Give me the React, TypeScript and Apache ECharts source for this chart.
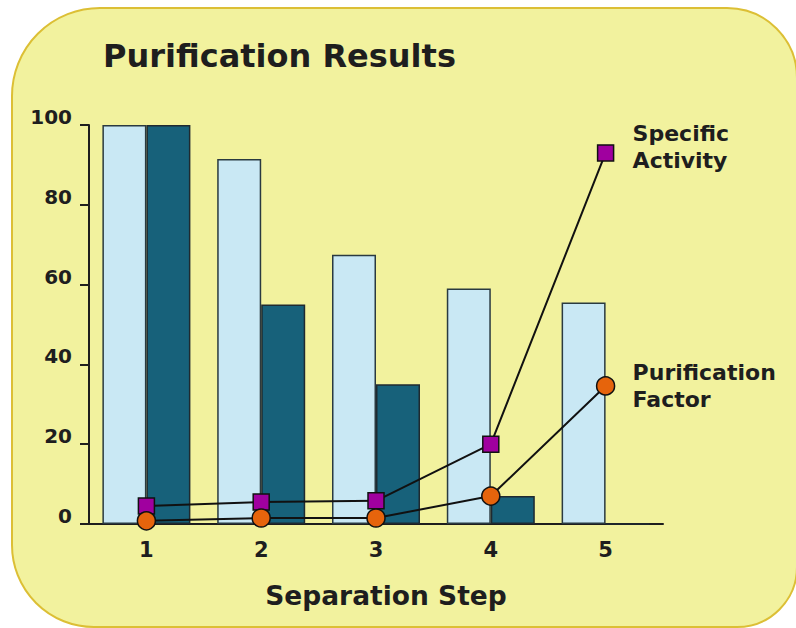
import React, { useEffect, useRef } from "react";
import * as echarts from "echarts";

// Separation steps along the x axis
const steps = ["1", "2", "3", "4", "5"];
// Light bars: activity recovered (% of start)
const activityRecovered = [100, 91.5, 67.5, 59, 55.5];
// Dark bars: protein recovered (% of start)
const proteinRecovered = [100, 55, 35, 7, 0];
// Line with square markers
const specificActivity = [4.5, 5.5, 5.8, 20, 93];
// Line with round markers
const purificationFactor = [0.8, 1.5, 1.5, 7, 34.6];

const FONT = "DejaVu Sans";
const INK = "#1e1e1e";

function endLabel(offset: number[]) {
  return {
    show: true,
    distance: 24,
    offset,
    formatter: (p: any) => String(p.seriesName).replace(" ", "\n"),
    fontFamily: FONT,
    fontWeight: "bold" as const,
    fontSize: 22,
    lineHeight: 27,
    color: INK,
    align: "left" as const,
  };
}

export default function App() {
  const ref = useRef<HTMLDivElement>(null);

  useEffect(() => {
    if (!ref.current) return;
    const chart = echarts.init(ref.current, null, { renderer: "svg" });

    chart.setOption({
      animation: false,
      backgroundColor: "#ffffff",
      graphic: [
        {
          type: "rect",
          z: -10,
          silent: true,
          shape: { x: 12, y: 8, width: 785, height: 619, r: [88, 70, 60, 82] },
          style: { fill: "#f2f29e", stroke: "#dcbf35", lineWidth: 2 },
        },
        {
          type: "text",
          x: 103,
          y: 56,
          style: {
            text: "Purification Results",
            fontFamily: FONT,
            fontWeight: "bold",
            fontSize: 32,
            fill: INK,
            verticalAlign: "middle",
            align: "left",
          },
        },
      ],
      grid: { left: 89, top: 125, width: 574, height: 399, containLabel: false },
      xAxis: {
        type: "category",
        data: steps,
        name: "Separation Step",
        nameLocation: "middle",
        nameGap: 58,
        nameTextStyle: {
          fontFamily: FONT,
          fontWeight: "bold",
          fontSize: 26.5,
          color: INK,
          padding: [0, 0, 0, 20],
        },
        axisLine: { lineStyle: { color: INK, width: 2 } },
        axisTick: { show: false },
        axisLabel: {
          margin: 15,
          fontFamily: FONT,
          fontWeight: "bold",
          fontSize: 21,
          color: INK,
        },
      },
      yAxis: {
        type: "value",
        min: 0,
        max: 100,
        interval: 20,
        splitLine: { show: false },
        axisLine: { show: true, lineStyle: { color: INK, width: 2 } },
        axisTick: { show: true, length: 9, lineStyle: { color: INK, width: 2 } },
        axisLabel: {
          margin: 17,
          verticalAlign: "bottom",
          lineHeight: 16,
          fontFamily: FONT,
          fontWeight: "bold",
          fontSize: 20,
          color: INK,
        },
      },
      series: [
        {
          name: "Activity Recovered",
          type: "bar",
          data: activityRecovered,
          barWidth: 44,
          barGap: "0%",
          itemStyle: { color: "#c9e8f4", borderColor: "#2a3a40", borderWidth: 1.5 },
          z: 2,
        },
        {
          name: "Protein Recovered",
          type: "bar",
          data: proteinRecovered,
          barWidth: 44,
          barGap: "0%",
          itemStyle: { color: "#17617a", borderColor: "#1f2a30", borderWidth: 1.5 },
          z: 2,
        },
        {
          name: "Specific Activity",
          type: "line",
          data: specificActivity,
          symbol: "rect",
          symbolSize: 16,
          lineStyle: { color: "#111", width: 2 },
          itemStyle: { color: "#a0009f", borderColor: "#111", borderWidth: 1.5 },
          endLabel: endLabel([3, -6]),
          z: 5,
        },
        {
          name: "Purification Factor",
          type: "line",
          data: purificationFactor,
          symbol: "circle",
          symbolSize: 18,
          lineStyle: { color: "#111", width: 2 },
          itemStyle: { color: "#e6640c", borderColor: "#111", borderWidth: 1.5 },
          endLabel: endLabel([3, 0]),
          z: 5,
        },
      ],
    });

    return () => chart.dispose();
  }, []);

  return (
    <div
      ref={ref}
      style={{ position: "fixed", left: 0, top: 0, width: 796, height: 628 }}
    />
  );
}
